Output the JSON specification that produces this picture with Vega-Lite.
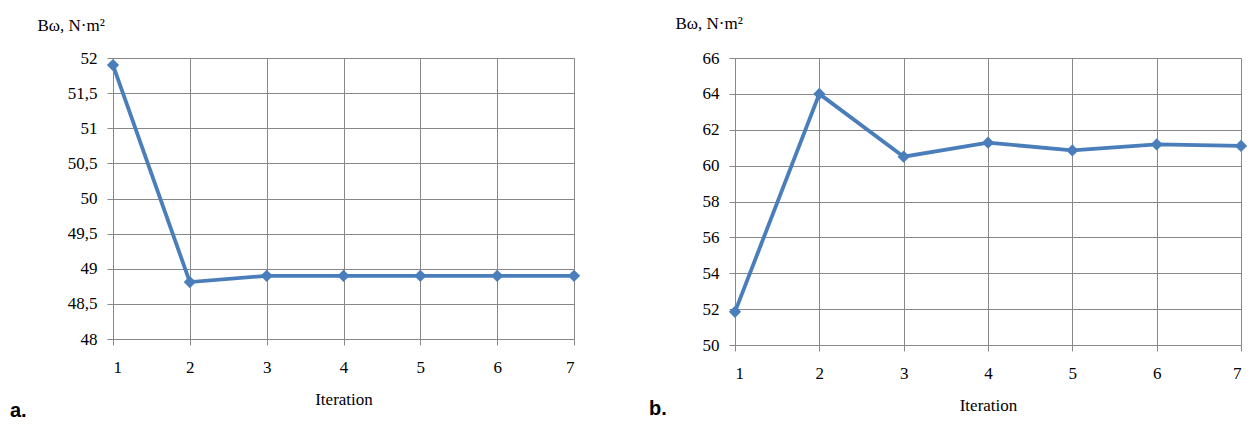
{
  "$schema": "https://vega.github.io/schema/vega-lite/v6.json",
  "padding": {"left": 10, "top": 14, "right": 0, "bottom": 0},
  "background": "white",
  "datasets": {
    "a": [
      {"iteration": 1, "value": 51.9},
      {"iteration": 2, "value": 48.81},
      {"iteration": 3, "value": 48.9},
      {"iteration": 4, "value": 48.9},
      {"iteration": 5, "value": 48.9},
      {"iteration": 6, "value": 48.9},
      {"iteration": 7, "value": 48.9}
    ],
    "b": [
      {"iteration": 1, "value": 51.85},
      {"iteration": 2, "value": 64.0},
      {"iteration": 3, "value": 60.5},
      {"iteration": 4, "value": 61.28},
      {"iteration": 5, "value": 60.85},
      {"iteration": 6, "value": 61.18},
      {"iteration": 7, "value": 61.1}
    ]
  },
  "spacing": 67,
  "hconcat": [
    {
      "width": 461,
      "height": 281,
      "data": {"name": "a"},
      "title": {"text": "a.", "orient": "bottom", "anchor": "start", "frame": "bounds", "font": "Liberation Sans", "fontSize": 20, "fontWeight": "bold", "color": "black", "offset": -6, "dx": -27},
      "encoding": {
        "x": {"field": "iteration", "type": "quantitative", "scale": {"domain": [1, 7], "nice": false},
              "axis": {"values": [1, 2, 3, 4, 5, 6, 7], "format": "d", "title": "Iteration",
                       "labelFont": "Liberation Serif", "labelFontSize": 17, "labelColor": "black", "labelPadding": 14}},
        "y": {"field": "value", "type": "quantitative", "scale": {"domain": [48, 52], "nice": false, "zero": false},
              "axis": {"values": [48, 48.5, 49, 49.5, 50, 50.5, 51, 51.5, 52], "labelExpr": "replace(format(datum.value, '~g'), '.', ',')",
                       "labelFont": "Liberation Serif", "labelFontSize": 17, "labelColor": "black", "labelPadding": 10,
                       "title": "Bω, N·m²", "titleAngle": 0, "titleAlign": "left", "titleBaseline": "alphabetic", "titleX": -76, "titleY": -28}}
      },
      "layer": [
        {"mark": {"type": "line", "color": "#4A7EBB", "strokeWidth": 3.8}},
        {"mark": {"type": "point", "shape": "diamond", "filled": true, "size": 150, "color": "#4A7EBB", "opacity": 1}}
      ]
    },
    {
      "width": 506,
      "height": 287,
      "data": {"name": "b"},
      "title": {"text": "b.", "orient": "bottom", "anchor": "start", "frame": "bounds", "font": "Liberation Sans", "fontSize": 20, "fontWeight": "bold", "color": "black", "offset": -14, "dx": -26},
      "encoding": {
        "x": {"field": "iteration", "type": "quantitative", "scale": {"domain": [1, 7], "nice": false},
              "axis": {"values": [1, 2, 3, 4, 5, 6, 7], "format": "d", "title": "Iteration",
                       "labelFont": "Liberation Serif", "labelFontSize": 17, "labelColor": "black", "labelPadding": 14}},
        "y": {"field": "value", "type": "quantitative", "scale": {"domain": [50, 66], "nice": false, "zero": false},
              "axis": {"values": [50, 52, 54, 56, 58, 60, 62, 64, 66], "format": "d",
                       "labelFont": "Liberation Serif", "labelFontSize": 17, "labelColor": "black", "labelPadding": 10,
                       "title": "Bω, N·m²", "titleAngle": 0, "titleAlign": "left", "titleBaseline": "alphabetic", "titleX": -60, "titleY": -30}}
      },
      "layer": [
        {"mark": {"type": "line", "color": "#4A7EBB", "strokeWidth": 3.8}},
        {"mark": {"type": "point", "shape": "diamond", "filled": true, "size": 150, "color": "#4A7EBB", "opacity": 1}}
      ]
    }
  ],
  "config": {
    "view": {"stroke": null},
    "axis": {
      "gridColor": "#888888", "gridOpacity": 1, "gridWidth": 1,
      "domainColor": "#888888", "domainWidth": 1,
      "tickColor": "#888888", "tickSize": 6,
      "titleFont": "Liberation Serif", "titleFontSize": 17, "titleFontWeight": "normal", "titleColor": "black"
    },
    "axisX": {"titlePadding": 16}
  }
}
